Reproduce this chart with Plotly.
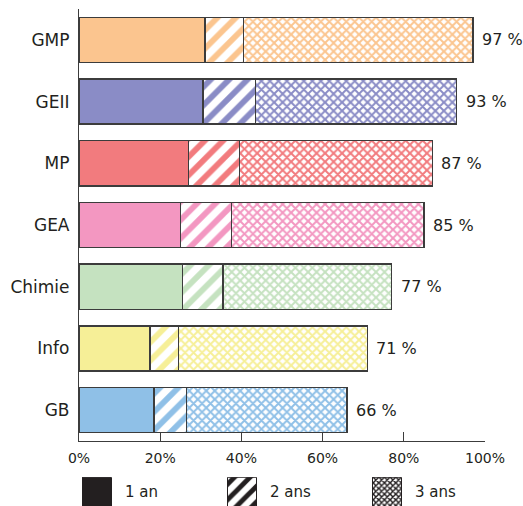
import plotly.graph_objects as go

# Share of students graduating, cumulative by number of years, per department
departements = ["GMP", "GEII", "MP", "GEA", "Chimie", "Info", "GB"]
un_an = [31, 30.5, 27, 25, 25.5, 17.5, 18.5]
deux_ans = [9.5, 13, 12.5, 12.5, 10, 7, 8]
total = [97, 93, 87, 85, 77, 71, 66]
trois_ans = [t - a - b for t, a, b in zip(total, un_an, deux_ans)]

couleurs = ["#fbc58f", "#8a8cc6", "#f27b7e", "#f397c1", "#c5e2c0", "#f6ef97", "#8fc0e7"]

legende = ["1 an", "2 ans", "3 ans"]
tick_vals = [0, 20, 40, 60, 80, 100]
tick_text = ["0%", "20%", "40%", "60%", "80%", "100%"]

INK = "#231f20"
EDGE = "#3c3c3c"
FONT = "DejaVu Sans"

fig = go.Figure()

for i, dep in enumerate(departements):
    c = couleurs[i]
    line = dict(color=EDGE, width=1.4)
    fig.add_trace(go.Bar(
        y=[dep], x=[un_an[i]], orientation="h",
        marker=dict(color=c, line=line), showlegend=False))
    fig.add_trace(go.Bar(
        y=[dep], x=[deux_ans[i]], orientation="h",
        marker=dict(color="white", line=line,
                    pattern=dict(shape="/", fgcolor=c, bgcolor="white",
                                 size=13, solidity=0.45, fillmode="replace")),
        showlegend=False))
    fig.add_trace(go.Bar(
        y=[dep], x=[trois_ans[i]], orientation="h",
        marker=dict(color="white", line=line,
                    pattern=dict(shape="x", fgcolor=c, bgcolor="white",
                                 size=6, solidity=0.55, fillmode="replace")),
        showlegend=False))

# total labels at the end of each bar
for dep, t in zip(departements, total):
    fig.add_annotation(x=t, y=dep, xref="x", yref="y", text=f"{t} %",
                       showarrow=False, xanchor="left", xshift=7,
                       font=dict(family=FONT, size=16, color=INK))

# legend swatches drawn as a small bar row under the axis
legend_patterns = [
    dict(shape="", fgcolor=INK, bgcolor=INK),
    dict(shape="/", fgcolor=INK, bgcolor="white", size=11, solidity=0.45, fillmode="replace"),
    dict(shape="x", fgcolor=INK, bgcolor="white", size=4, solidity=0.6, fillmode="replace"),
]
for k, lab in enumerate(legende):
    fig.add_trace(go.Bar(
        x=[k], y=[1], base=0, width=0.2, xaxis="x2", yaxis="y2",
        marker=dict(color=INK if k == 0 else "white",
                    line=dict(color=INK, width=1),
                    pattern=legend_patterns[k]),
        showlegend=False))
    fig.add_annotation(x=k, y=0.5, xref="x2", yref="y2", text=lab,
                       showarrow=False, xanchor="left", xshift=26,
                       font=dict(family=FONT, size=15, color=INK))

fig.update_layout(
    width=523, height=506,
    margin=dict(l=79, r=38, t=9, b=0),
    paper_bgcolor="white", plot_bgcolor="white",
    barmode="stack", bargap=0.27,
    font=dict(family=FONT, color=INK),
    xaxis=dict(range=[0, 100], tickvals=tick_vals, ticktext=tick_text,
               showgrid=False, zeroline=False, showline=True,
               linecolor=EDGE, linewidth=1.2, ticks="inside", ticklen=9,
               tickcolor=EDGE, ticklabelstandoff=4,
               tickfont=dict(family=FONT, size=14, color=INK),
               anchor="y"),
    yaxis=dict(domain=[0.1308, 1], autorange="reversed", showgrid=False,
               zeroline=False, showline=True, linecolor=EDGE, linewidth=1.2,
               ticks="", ticklabelstandoff=5,
               tickfont=dict(family=FONT, size=17, color=INK)),
    xaxis2=dict(domain=[0, 1], range=[-0.124, 2.676], visible=False,
                anchor="y2"),
    yaxis2=dict(domain=[0, 0.058], range=[0, 1], visible=False,
                anchor="x2"),
)

fig.write_html("out.html")
